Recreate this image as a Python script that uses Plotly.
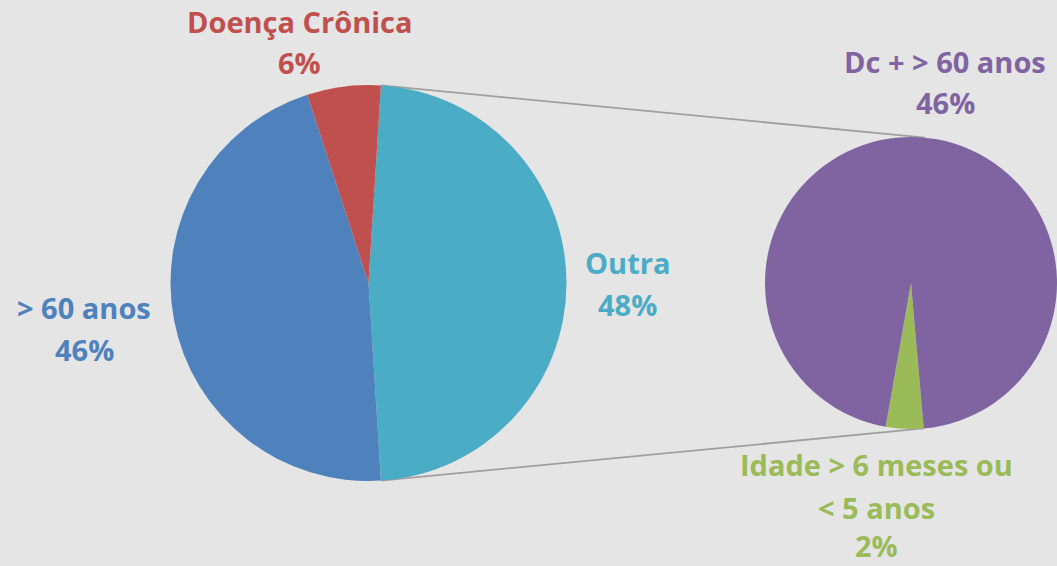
import math
import plotly.graph_objects as go

# ---------------- data ----------------
main_labels = ["Outra", "> 60 anos", "Doença Crônica"]
main_values = [48, 46, 6]
main_colors = ["#4BACC6", "#4F81BD", "#C0504D"]

sec_labels = ["Idade > 6 meses ou < 5 anos", "Dc + > 60 anos"]
sec_values = [2, 46]
sec_colors = ["#9BBB59", "#8064A2"]

# ---------------- layout geometry (pixels) ----------------
W, H = 1057, 566
BG = "#E5E5E5"
FONT = "Open Sans"
FS = 29

main_c = (368.5, 283.0)
main_r = 198.0
sec_c = (911.0, 283.0)
sec_r = 146.0

def dom(c, r):
    x0 = max(0.0, (c[0] - r) / W)
    x1 = min(1.0, (c[0] + r) / W)
    y0 = (H - (c[1] + r)) / H
    y1 = (H - (c[1] - r)) / H
    return dict(x=[x0, x1], y=[y0, y1])

main_total = sum(main_values)
outra_deg = 360.0 * main_values[0] / main_total
main_rot = 90.0 - outra_deg / 2.0          # "Outra" centred at 3 o'clock

sec_total = sum(sec_values)
green_deg = 360.0 * sec_values[0] / sec_total
sec_rot = 182.5 - green_deg / 2.0          # small slice near 6 o'clock

fig = go.Figure()
fig.add_trace(go.Pie(
    labels=main_labels, values=main_values, sort=False, direction="clockwise",
    rotation=main_rot, marker=dict(colors=main_colors, line=dict(width=0)),
    textinfo="none", hoverinfo="label+percent", showlegend=False,
    domain=dom(main_c, main_r),
))
fig.add_trace(go.Pie(
    labels=sec_labels, values=sec_values, sort=False, direction="clockwise",
    rotation=sec_rot, marker=dict(colors=sec_colors, line=dict(width=0)),
    textinfo="none", hoverinfo="label+value", showlegend=False,
    domain=dom(sec_c, sec_r),
))

# connector lines from the "Outra" edges of the main pie to the secondary pie
def pt(c, r, deg):
    a = math.radians(deg)
    return (c[0] + r * math.sin(a), c[1] - r * math.cos(a))

p1 = pt(main_c, main_r, main_rot)
p2 = pt(main_c, main_r, main_rot + outra_deg)
q1 = pt(sec_c, sec_r, 5.5)
q2 = pt(sec_c, sec_r, sec_rot)
shapes = []
for a, b in [(p1, q1), (p2, q2)]:
    shapes.append(dict(type="line", xref="paper", yref="paper",
                       x0=a[0] / W, y0=1 - a[1] / H, x1=b[0] / W, y1=1 - b[1] / H,
                       line=dict(color="#A0A0A0", width=1.8), layer="below"))

# labels (one annotation per text line)
def pct(v, tot):
    return f"{round(100 * v / tot)}%"

label_lines = [
    (["Doença Crônica", pct(main_values[2], main_total)], "#C0504D", 299.5, [21, 62]),
    (["> 60 anos", pct(main_values[1], main_total)], "#4F81BD", 84, [307.5, 349.5]),
    (["Outra", pct(main_values[0], main_total)], "#4BACC6", 627.5, [262.5, 304]),
    (["Dc + > 60 anos", pct(sec_values[1], main_total)], "#8064A2", 945, [61.5, 102.5]),
    (["Idade > 6 meses ou", "< 5 anos", pct(sec_values[0], main_total)], "#9BBB59", 876, [464, 507, 545]),
]
annotations = []
for lines, col, x, ys in label_lines:
    for t, y in zip(lines, ys):
        annotations.append(dict(
            text=f"<b>{t}</b>", x=x / W, y=1 - y / H, xref="paper", yref="paper",
            xanchor="center", yanchor="middle", showarrow=False,
            font=dict(family=FONT, size=FS, color=col),
        ))

fig.update_layout(
    width=W, height=H, margin=dict(l=0, r=0, t=0, b=0),
    paper_bgcolor=BG, plot_bgcolor=BG,
    shapes=shapes, annotations=annotations,
)
fig.write_html("out.html")
